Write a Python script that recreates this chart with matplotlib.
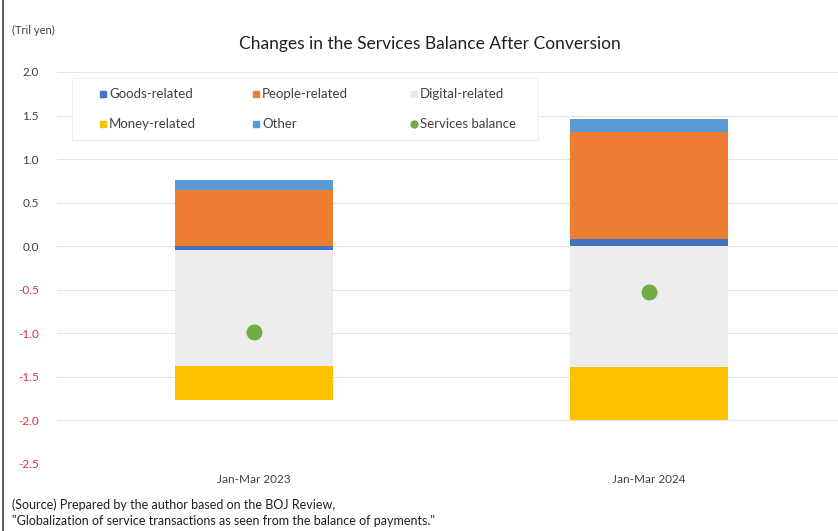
import numpy as np
import matplotlib.pyplot as plt
from matplotlib.lines import Line2D
from matplotlib.patches import Rectangle

plt.rcParams['font.family'] = ['Lato', 'DejaVu Sans']

# Services balance components (trillion yen)
periods  = ['Jan-Mar 2023', 'Jan-Mar 2024']
goods    = [-0.04, 0.08]
people   = [0.65, 1.23]
digital  = [-1.34, -1.39]
money    = [-0.38, -0.60]
other    = [0.11, 0.145]
balance  = [-0.99, -0.53]

yticks = [2.0, 1.5, 1.0, 0.5, 0.0, -0.5, -1.0, -1.5, -2.0, -2.5]

colors = {
    'Goods-related':  '#4472C4',
    'People-related': '#ED7D31',
    'Digital-related': '#EDEDED',
    'Money-related':  '#FFC000',
    'Other':          '#5B9BD5',
}
dot_color = '#70AD47'

W, H = 838, 531
fig = plt.figure(figsize=(W / 100, H / 100), dpi=100)
ax = fig.add_axes([57 / W, 67 / H, 789 / W, 392 / H])

x = np.arange(len(periods))
w = 0.4

# stack positives upward and negatives downward from zero
series = [('Goods-related', goods), ('People-related', people),
          ('Digital-related', digital), ('Money-related', money),
          ('Other', other)]
pos = np.zeros(len(periods))
neg = np.zeros(len(periods))
for name, vals in series:
    vals = np.array(vals)
    base = np.where(vals >= 0, pos, neg)
    ax.bar(x, vals, w, bottom=base, color=colors[name], linewidth=0, zorder=2)
    pos = np.where(vals >= 0, pos + vals, pos)
    neg = np.where(vals < 0, neg + vals, neg)

ax.scatter(x, balance, s=110, color=dot_color, zorder=3)

ax.set_xlim(-0.5, 1.5)
ax.set_ylim(-2.5, 2.0)
ax.set_yticks(yticks)
ax.set_yticklabels([f'{v:.1f}' for v in yticks], fontsize=8.5)
for lab, v in zip(ax.get_yticklabels(), yticks):
    lab.set_color('#E0303A' if v < 0 else '#404040')
ax.set_xticks(x)
ax.set_xticklabels(periods, fontsize=8.5, color='#404040')
ax.tick_params(axis='y', length=0, pad=13)
ax.tick_params(axis='x', length=0, pad=7)
ax.grid(axis='y', color='#E4E4E4', linewidth=0.8, zorder=0)
for s in ax.spines.values():
    s.set_visible(False)

# legend box drawn by hand: 3 columns x 2 rows
fig.add_artist(Rectangle((72 / W, 1 - 140 / H), 466 / W, 62 / H,
                         transform=fig.transFigure, facecolor='white',
                         edgecolor='#EEEEEE', linewidth=0.8, zorder=5))
legend_items = [
    ('Goods-related', colors['Goods-related'], 's', 103, 94),
    ('People-related', colors['People-related'], 's', 256, 94),
    ('Digital-related', '#E8E8E8', 's', 414, 94),
    ('Money-related', colors['Money-related'], 's', 103, 124),
    ('Other', colors['Other'], 's', 256, 124),
    ('Services balance', dot_color, 'o', 414, 124),
]
for label, c, m, px, py in legend_items:
    fig.add_artist(Line2D([px / W], [1 - py / H], marker=m, color=c,
                          markersize=5, linestyle='', zorder=6))
    fig.text((px + 6) / W, 1 - py / H, label, ha='left', va='center',
             fontsize=9.5, color='#404040', zorder=6)

fig.text(430 / W, 1 - 44 / H, 'Changes in the Services Balance After Conversion',
         ha='center', va='center', fontsize=12.5, color='#202020')
fig.text(12 / W, 1 - 30 / H, '(Tril yen)', ha='left', va='center',
         fontsize=8, color='#404040')
fig.text(12 / W, 1 - 505 / H,
         '(Source) Prepared by the author based on the BOJ Review,',
         ha='left', va='center', fontsize=9, color='#202020')
fig.text(12 / W, 1 - 521 / H,
         '"Globalization of service transactions as seen from the balance of payments."',
         ha='left', va='center', fontsize=9, color='#202020')

# outer frame edge on the left
fig.add_artist(Line2D([3 / W, 3 / W], [0, 1], color='#404040', linewidth=1.2))

fig.savefig('out.png', dpi=100)
